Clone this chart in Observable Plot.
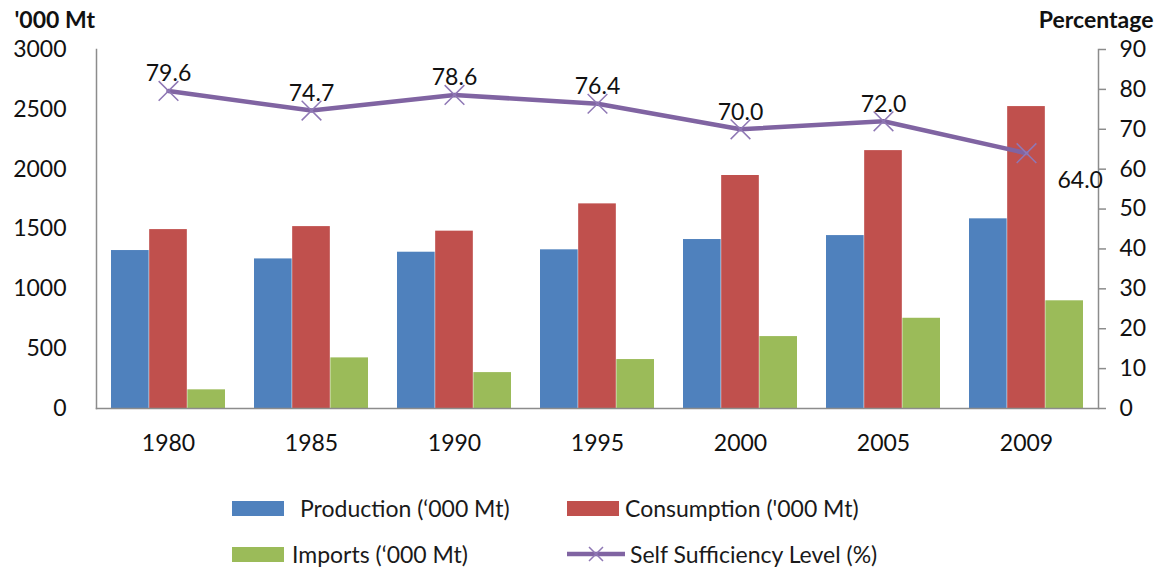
<!DOCTYPE html>
<html>
<head>
<meta charset="utf-8">
<script src="https://cdn.jsdelivr.net/npm/d3@7"></script>
<script src="https://cdn.jsdelivr.net/npm/@observablehq/plot@0.6"></script>
<style>
  body { margin: 0; background: #fff; font-family: Lato, "Liberation Sans", sans-serif; }
  #wrap { width: 1161px; }
  #chart svg { display: block; }
  .legend { position: relative; width: 1161px; height: 99px; font-size: 23px; color: #1a1a1a; }
  .item { position: absolute; display: flex; align-items: center; height: 22px; }
  .swatch { width: 52px; height: 15px; }
  .lineKey { width: 58px; height: 20px; margin-right: 5px; }
</style>
</head>
<body>
<div id="wrap">
  <div id="chart"></div>
  <div class="legend" id="legend"></div>
</div>
<script>
// Sugar production, consumption and imports with the self sufficiency level
const years = ["1980", "1985", "1990", "1995", "2000", "2005", "2009"];
const production = [1320, 1250, 1306, 1326, 1412, 1445, 1585];
const consumption = [1495, 1520, 1482, 1710, 1947, 2155, 2523];
const imports = [156, 423, 300, 409, 601, 754, 900];
const selfSufficiency = [79.6, 74.7, 78.6, 76.4, 70.0, 72.0, 64.0];
const tonnesTicks = [0, 500, 1000, 1500, 2000, 2500, 3000];
const percentTicks = [0, 10, 20, 30, 40, 50, 60, 70, 80, 90];

const colors = { production: "#4F81BD", consumption: "#C0504D", imports: "#9BBB59", level: "#8064A2" };

// The percentage series shares the tonnes scale: 90 % sits at 3000.
const tonnesMax = 3000, percentMax = 90;
const toTonnes = p => p * tonnesMax / percentMax;

const rows = years.map((year, i) => ({
  year,
  production: production[i],
  consumption: consumption[i],
  imports: imports[i],
  level: selfSufficiency[i]
}));

const W = 1161, H = 470;
const mL = 96, mR = 63, mT = 49, mB = 62;
const step = (W - mL - mR) / years.length;   // paddingInner 0.2, paddingOuter 0.1
const bw = step * 0.8;
const third = bw / 3;

const labelFont = 23;

const chart = Plot.plot({
  width: W,
  height: H,
  marginLeft: mL,
  marginRight: mR,
  marginTop: mT,
  marginBottom: mB,
  style: { fontFamily: "Lato, 'Liberation Sans', sans-serif", fontSize: "23px", color: "#111", background: "#fff" },
  x: { type: "band", domain: years, paddingInner: 0.2, paddingOuter: 0.1 },
  y: { domain: [0, tonnesMax] },
  marks: [
    Plot.barY(rows, { x: "year", y: "production", fill: colors.production, insetRight: 2 * third }),
    Plot.barY(rows, { x: "year", y: "consumption", fill: colors.consumption, insetLeft: third, insetRight: third }),
    Plot.barY(rows, { x: "year", y: "imports", fill: colors.imports, insetLeft: 2 * third }),
    // axis lines
    Plot.frame({ anchor: "left", stroke: "#8c8c8c", strokeWidth: 1.5 }),
    Plot.frame({ anchor: "right", stroke: "#8c8c8c", strokeWidth: 1.5 }),
    Plot.frame({ anchor: "bottom", stroke: "#8c8c8c", strokeWidth: 1.5 }),
    Plot.axisY(tonnesTicks, { anchor: "left", tickSize: 0, tickPadding: 30, tickFormat: d => String(d), fontSize: labelFont, label: null }),
    Plot.axisY(percentTicks.map(toTonnes), {
      anchor: "right", tickSize: 7, tickPadding: 14, stroke: "#8c8c8c", strokeWidth: 1.5,
      tickFormat: d => String(Math.round(d * percentMax / tonnesMax)), fontSize: labelFont, label: null
    }),
    Plot.axisX({ tickSize: 0, tickPadding: 26, fontSize: labelFont, label: null }),
    // self sufficiency line
    Plot.line(rows, { x: "year", y: d => toTonnes(d.level), stroke: colors.level, strokeWidth: 4.5 }),
    Plot.dot(rows, { x: "year", y: d => toTonnes(d.level), symbol: "times", r: 9, stroke: "#8f78b5", strokeWidth: 1.5 }),
    Plot.text(rows.slice(0, -1), {
      x: "year", y: d => toTonnes(d.level), text: d => d.level.toFixed(1),
      dy: -17, fontSize: labelFont, fill: "#111"
    }),
    Plot.text(rows.slice(-1), {
      x: "year", y: d => toTonnes(d.level), text: d => d.level.toFixed(1),
      dx: 31, dy: 27, textAnchor: "start", fontSize: labelFont, fill: "#111"
    }),
    // axis titles
    Plot.text(["'000 Mt"], { frameAnchor: "top-left", lineAnchor: "middle", dx: -82, dy: -29, textAnchor: "start", fontWeight: "bold", fontSize: 23, fill: "#111" }),
    Plot.text(["Percentage"], { frameAnchor: "top-right", lineAnchor: "middle", dx: 55, dy: -29, textAnchor: "end", fontWeight: "bold", fontSize: 23, fill: "#111" })
  ]
});
document.getElementById("chart").append(chart);

// Legend below the chart
const legendItems = [
  { label: "Production (‘000 Mt)", color: colors.production, kind: "bar", left: 232, top: 497, gap: 16 },
  { label: "Consumption ('000 Mt)", color: colors.consumption, kind: "bar", left: 567, top: 497, gap: 6 },
  { label: "Imports (‘000 Mt)", color: colors.imports, kind: "bar", left: 232, top: 543, gap: 8 },
  { label: "Self Sufficiency Level (%)", color: colors.level, kind: "line", left: 567, top: 543, gap: 5 }
];
const legend = document.getElementById("legend");
for (const it of legendItems) {
  const el = document.createElement("div");
  el.className = "item";
  el.style.left = it.left + "px";
  el.style.top = (it.top - H) + "px";
  if (it.kind === "bar") {
    const sw = document.createElement("div");
    sw.className = "swatch";
    sw.style.background = it.color;
    sw.style.marginRight = it.gap + "px";
    el.append(sw);
  } else {
    const ns = "http://www.w3.org/2000/svg";
    const svg = document.createElementNS(ns, "svg");
    svg.setAttribute("class", "lineKey");
    svg.setAttribute("width", 58);
    svg.setAttribute("height", 20);
    svg.innerHTML = `<line x1="0" x2="58" y1="10" y2="10" stroke="${it.color}" stroke-width="4.5"/>
      <path d="M22,3L36,17M36,3L22,17" stroke="#8f78b5" stroke-width="1.5"/>`;
    el.append(svg);
  }
  const t = document.createElement("span");
  t.textContent = it.label;
  el.append(t);
  legend.append(el);
}
</script>
</body>
</html>
